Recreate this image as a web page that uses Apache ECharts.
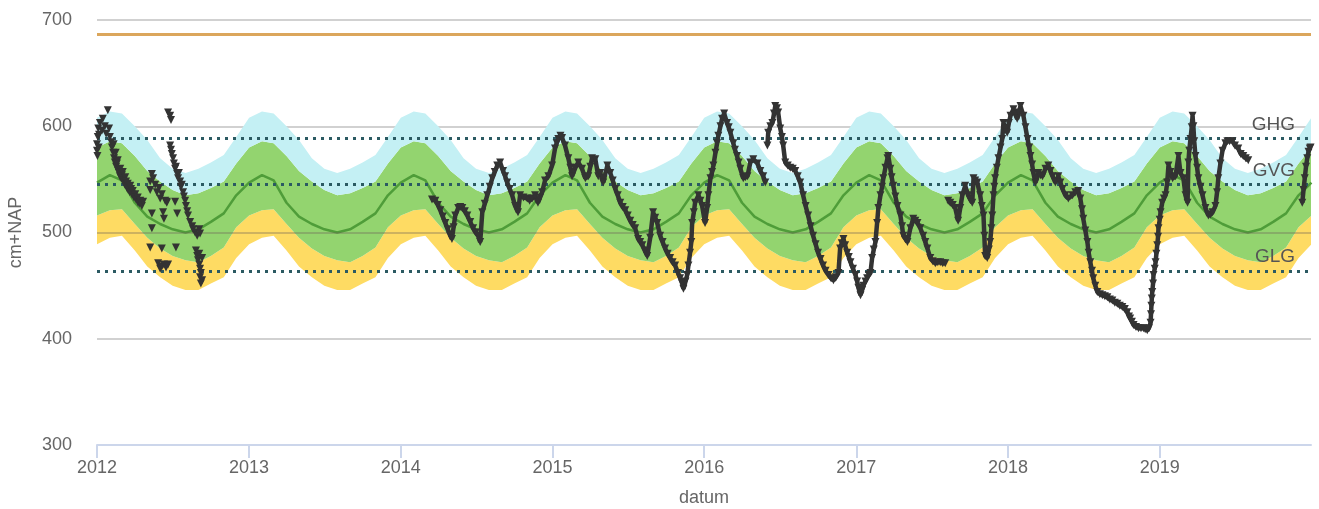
<!DOCTYPE html>
<html><head><meta charset="utf-8">
<script src="https://cdn.jsdelivr.net/npm/echarts@6/dist/echarts.min.js"></script>
<style>html,body{margin:0;padding:0;background:#fff}#c{width:1319px;height:509px}</style>
</head><body><div id="c"></div><script>
// y axis ticks
const yMin = 300, yMax = 700, yStep = 100;
// seasonal band edges, value on the 1st of each month (Jan..Dec), same every year
const bandLow       = [489, 495, 497, 483, 468, 458, 450, 446, 446, 452, 458, 476];
const bandGreenLow  = [516, 521, 522, 508, 495, 485, 478, 474, 472, 478, 486, 505];
const bandMedian    = [547, 554, 549, 528, 515, 508, 503, 500, 503, 510, 518, 535];
const bandGreenHigh = [580, 586, 584, 572, 558, 548, 540, 535, 537, 542, 548, 565];
const bandHigh      = [608, 614, 612, 600, 587, 570, 560, 556, 560, 566, 573, 590];
// reference levels
const levelNames  = ['GHG', 'GVG', 'GLG'];
const levelValues = [589, 545, 464];
const topLevel = 687;
const midLevel = 500;
// observations: [days since 2012-01-01, cm+NAP]
const obs2012 = [[0,577],[0,583],[1,572],[2,590],[3,598],[4,580],[5,592],[7,603],[12,596],[14,607],[19,600],[22,593],[26,615],[29,598],[31,590],[34,585],[36,580],[39,575],[40,583],[41,570],[43,566],[45,575],[46,562],[48,565],[50,568],[51,558],[53,556],[55,553],[56,560],[58,551],[60,554],[62,557],[63,549],[65,547],[67,545],[68,552],[70,548],[72,542],[74,546],[75,540],[79,538],[80,544],[82,541],[84,536],[86,539],[89,533],[92,536],[94,531],[98,533],[99,528],[103,527],[104,530],[108,525],[111,529],
[128,548],[128,540],[132,555],[135,551],[140,545],[144,538],[149,542],[152,532],[156,536],[164,530],[168,528],
[132,518],[132,504],[159,519],[161,513],[193,518],[128,486],[156,485],[190,486],[168,529],[188,529],
[147,471],[152,466],[156,468],[161,470],[166,467],[171,470],
[171,613],[176,610],[178,606],
[176,582],[178,578],[180,574],[183,570],[185,565],[188,560],[190,562],[193,555],[195,551],[197,556],[200,548],[202,543],[204,545],[207,538],[209,534],[212,530],[214,525],[217,520],[219,516],[224,510],[229,506],[231,503],[236,500],[241,497],[246,503],[248,499],
[238,483],[241,478],[243,474],[246,470],[248,466],[250,462],[248,458],[253,455],[250,452],[246,480],[253,476]];
const obs2014 = [[806,531],[814,530],[820,526],[826,521],[832,515],[838,509],[844,503],[850,497],[854,494],[858,505],[862,516],[869,523],[874,524],[879,523],[885,520],[891,516],[898,510],[905,504],[911,500],[917,497],[922,491],[927,519],[933,527],[939,535],[945,543],[951,551],[957,557],[963,563],[970,566],[977,558],[982,553],[987,547],[993,541],[999,535],[1006,525],[1013,519],[1018,535],[1026,533],[1035,532],[1041,530],[1047,532],[1054,535],[1061,528],[1066,533],[1071,538],[1078,549],[1086,553],[1095,563],[1102,579],[1106,584],[1110,588],[1115,591],[1119,589],[1126,582],[1134,570],[1139,561],[1143,553],[1151,561],[1158,566],[1167,560],[1175,551],[1182,553],[1187,562],[1191,570],[1199,569],[1206,553],[1211,556],[1218,547],[1228,563],[1235,556],[1241,549],[1247,541],[1253,535],[1259,528],[1265,524],[1271,521],[1277,516],[1283,511],[1289,507],[1295,504],[1302,494],[1307,491],[1312,488],[1318,483],[1324,478],[1331,495],[1338,519],[1343,514],[1348,509],[1355,497],[1361,491],[1367,485],[1373,480],[1379,476],[1385,472],[1391,469],[1398,462],[1403,457],[1408,452],[1411,447],[1416,454],[1420,460],[1423,469],[1427,481],[1430,491],[1432,509],[1436,519],[1439,528],[1447,535],[1452,530],[1456,525],[1463,509],[1468,523],[1471,535],[1476,551],[1480,557],[1483,563],[1488,575],[1492,584],[1495,591],[1500,600],[1504,607],[1509,612],[1516,603],[1520,599],[1524,594],[1531,584],[1535,578],[1540,572],[1544,566],[1548,560],[1555,551],[1560,552],[1565,553],[1572,566],[1579,569],[1589,565],[1596,558],[1603,553],[1608,547]];
const obs2016 = [[1613,582],[1615,594],[1620,600],[1625,603],[1629,612],[1632,619],[1636,617],[1639,613],[1644,598],[1648,590],[1651,582],[1656,566],[1662,563],[1668,561],[1674,560],[1680,558],[1686,553],[1692,547],[1699,535],[1705,525],[1711,516],[1717,506],[1723,497],[1729,489],[1735,481],[1741,475],[1747,469],[1753,464],[1760,460],[1766,457],[1772,455],[1778,458],[1784,462],[1788,485],[1792,490],[1796,494],[1800,488],[1805,481],[1809,477],[1813,472],[1819,466],[1825,460],[1829,454],[1832,448],[1837,441],[1841,446],[1844,450],[1849,454],[1853,457],[1857,460],[1861,462],[1865,476],[1869,484],[1873,491],[1877,509],[1880,523],[1885,535],[1889,543],[1892,551],[1897,561],[1902,570],[1904,572],[1909,560],[1912,552],[1916,544],[1921,534],[1926,525],[1933,516],[1937,506],[1940,497],[1945,494],[1950,491],[1957,504],[1964,513],[1969,511],[1974,509],[1981,504],[1988,497],[1993,491],[1998,485],[2005,476],[2011,473],[2017,471],[2023,472],[2029,472],[2035,471],[2041,471]];
const obs2017 = [[2048,530],[2053,528],[2059,526],[2065,523],[2072,511],[2077,523],[2082,535],[2089,544],[2096,535],[2101,531],[2106,528],[2109,551],[2113,549],[2118,547],[2125,535],[2129,525],[2133,516],[2135,497],[2137,478],[2142,476],[2146,484],[2149,491],[2152,504],[2154,516],[2157,535],[2159,543],[2161,551],[2165,561],[2169,570],[2174,580],[2178,588],[2181,603],[2186,598],[2190,594],[2194,603],[2198,610],[2205,616],[2210,611],[2214,607],[2218,613],[2222,619],[2229,610],[2234,599],[2239,588],[2243,580],[2246,572],[2250,564],[2253,556],[2258,547],[2265,556],[2270,554],[2275,553],[2282,560],[2289,563],[2294,558],[2299,553],[2306,547],[2313,553],[2318,547],[2323,541],[2330,535],[2337,532],[2347,535],[2354,538],[2361,539],[2366,532],[2370,522],[2373,513],[2378,502],[2383,491],[2386,481],[2390,472],[2394,464],[2397,457],[2402,450],[2407,444],[2413,442],[2419,441],[2425,440],[2431,439],[2437,437],[2443,436],[2449,434],[2455,433],[2461,431],[2467,430],[2473,428],[2479,425],[2483,421],[2486,419],[2490,416],[2494,413],[2500,411],[2506,410],[2512,410],[2518,410],[2522,409],[2527,408],[2531,410],[2535,415],[2536,423],[2537,431],[2538,438],[2539,444],[2541,452],[2542,460],[2545,466],[2547,472],[2549,480],[2551,488],[2553,496],[2554,504],[2557,512],[2559,519],[2563,528],[2567,532],[2571,535],[2575,547],[2578,563],[2583,557],[2588,551],[2595,553],[2602,572],[2607,556],[2614,551],[2619,535],[2624,528],[2626,566],[2628,577],[2631,588],[2634,599],[2636,610],[2638,600],[2640,586],[2643,572],[2647,561],[2650,551],[2655,543],[2660,535],[2667,523],[2674,516],[2679,517],[2684,519],[2691,525],[2695,538],[2698,551],[2703,565],[2708,577],[2715,584],[2720,586],[2725,586],[2732,586],[2738,582],[2746,579],[2752,574],[2758,572],[2764,570],[2770,568]];
const obs2019 = [[2900,528],[2903,540],[2906,551],[2909,562],[2912,570],[2915,576],[2918,579],[2920,580]];

const FONT = "'Liberation Sans', Arial, sans-serif";
const toT = d => new Date(2012, 0, 1 + d).getTime();
const conv = arr => arr.map(p => [toT(p[0]), p[1]]);

const bandT = [], bandM = [];
for (let y = 2012; y <= 2019; y++) for (let m = 0; m < 12; m++) { bandT.push(new Date(y, m, 1).getTime()); bandM.push(m); }
bandT.push(new Date(2020, 0, 1).getTime()); bandM.push(0);
const mk = f => bandT.map((t, i) => [t, f(bandM[i])]);

const chart = echarts.init(document.getElementById('c'), null, {renderer: 'canvas'});
const triSym = {symbol: 'triangle', symbolRotate: 180, symbolSize: 8};
const obsLine = data => Object.assign({
  type: 'line', data: conv(data), z: 5, showAllSymbol: true,
  itemStyle: {color: '#333'}, lineStyle: {color: '#333', width: 4.5},
  emphasis: {disabled: true}, silent: true
}, triSym);

const lvlLines = levelNames.map((n, i) => ({
  yAxis: levelValues[i],
  lineStyle: {color: '#2b5a62', width: 3, type: [3, 5]},
  label: {show: true, formatter: n, position: 'insideEndTop', color: '#555', fontSize: 19, fontFamily: FONT, distance: [16, 4]}
}));

chart.setOption({
  animation: false,
  grid: {left: 97, right: 8, top: 20, bottom: 64, containLabel: false, outerBoundsMode: 'none'},
  xAxis: {
    type: 'time',
    min: new Date(2012, 0, 1).getTime(),
    max: new Date(2019, 11, 31).getTime(),
    splitNumber: 8,
    minInterval: 365 * 86400000,
    maxInterval: 366 * 86400000,
    name: 'datum', nameLocation: 'middle', nameGap: 44,
    nameTextStyle: {color: '#666', fontSize: 18, fontFamily: FONT},
    axisLine: {show: true, lineStyle: {color: '#ccd6eb', width: 2}},
    axisTick: {show: true, length: 13, lineStyle: {color: '#ccd6eb', width: 2}},
    axisLabel: {color: '#666', fontSize: 18, fontFamily: FONT, margin: 14,
      formatter: v => String(new Date(v).getFullYear()), showMaxLabel: false},
    splitLine: {show: false}
  },
  yAxis: {
    type: 'value', min: yMin, max: yMax, interval: yStep,
    name: 'cm+NAP', nameLocation: 'middle', nameGap: 72, nameRotate: 90,
    nameTextStyle: {color: '#666', fontSize: 18, fontFamily: FONT},
    axisLine: {show: false}, axisTick: {show: false},
    axisLabel: {color: '#666', fontSize: 18, fontFamily: FONT, margin: 25},
    splitLine: {show: true, lineStyle: {color: '#c2c2c2', width: 1.5}}
  },
  series: [
    {type: 'line', stack: 'band', data: mk(m => bandLow[m]), symbol: 'none', lineStyle: {width: 0, opacity: 0}, silent: true, z: 1},
    {type: 'line', stack: 'band', data: mk(m => bandGreenLow[m] - bandLow[m]), symbol: 'none', lineStyle: {width: 0, opacity: 0}, areaStyle: {color: '#fedb63', opacity: 1}, silent: true, z: 1},
    {type: 'line', stack: 'band', data: mk(m => bandGreenHigh[m] - bandGreenLow[m]), symbol: 'none', lineStyle: {width: 0, opacity: 0}, areaStyle: {color: '#93d46f', opacity: 1}, silent: true, z: 1},
    {type: 'line', stack: 'band', data: mk(m => bandHigh[m] - bandGreenHigh[m]), symbol: 'none', lineStyle: {width: 0, opacity: 0}, areaStyle: {color: '#c4f0f4', opacity: 1}, silent: true, z: 1},
    {type: 'line', data: mk(m => bandMedian[m]), symbol: 'none', lineStyle: {color: '#4f9d39', width: 2.5}, silent: true, z: 2,
      markLine: {silent: true, symbol: ['none', 'none'], animation: false,
        data: lvlLines.concat([
          {yAxis: topLevel, lineStyle: {color: '#dba65c', width: 3, type: 'solid'}, label: {show: false}},
          {yAxis: midLevel, lineStyle: {color: 'rgba(110,100,90,0.45)', width: 1.5, type: 'solid'}, label: {show: false}}
        ])}},
    Object.assign({type: 'scatter', data: conv(obs2012), z: 5, itemStyle: {color: '#333', opacity: 1}, silent: true}, triSym),
    obsLine(obs2014), obsLine(obs2016), obsLine(obs2017), obsLine(obs2019)
  ]
});
</script></body></html>
